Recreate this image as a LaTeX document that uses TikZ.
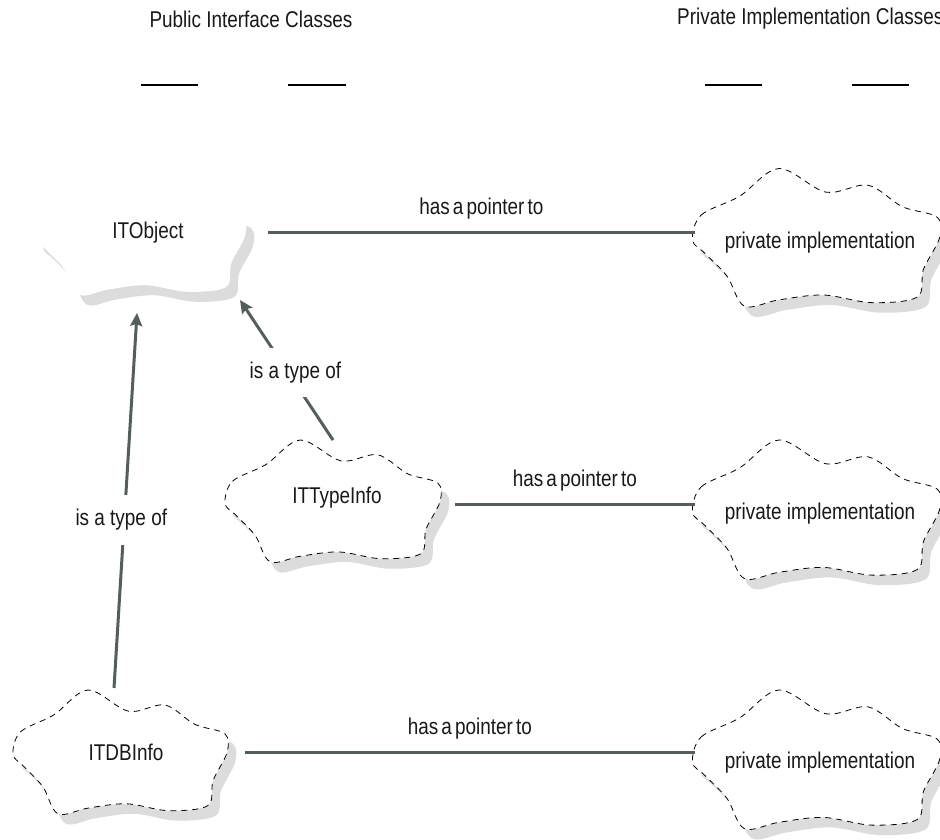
\documentclass[tikz,border=0pt]{standalone}
\usepackage{fontspec}
\setmainfont{Liberation Sans}[FakeStretch=0.83]
\newfontfamily\tightfont{Liberation Sans}[FakeStretch=0.83,WordSpace=0.6]
\usetikzlibrary{arrows.meta,calc}
\definecolor{linec}{RGB}{84,94,92}
\definecolor{txtc}{RGB}{25,25,25}
\definecolor{shadowc}{RGB}{220,220,220}
\newcommand\cloudshape{plot[smooth cycle, tension=0.55] coordinates {(-1.00,0.03) (-0.93,-0.33) (-0.62,-0.60) (-0.30,-1.00) (0.08,-0.66) (0.42,-0.76) (0.70,-0.45) (0.98,-0.30) (1.00,0.0) (0.87,0.45) (0.82,0.85) (0.45,0.93) (0.06,0.82) (-0.30,0.89) (-0.58,0.98) (-0.72,0.55) (-0.90,0.22)}}
\newcommand\mycloud[5]{%
  \begin{scope}[shift={(#1+8,#2+10)},xscale=#3,yscale=#4]
    \fill[shadowc] \cloudshape;
  \end{scope}
  \begin{scope}[shift={(#1,#2)},xscale=#3,yscale=#4]
    \path[fill=white,#5] \cloudshape;
  \end{scope}}
\tikzset{
  lbl/.style={font=\fontsize{22.8}{26}\selectfont, text=txtc, inner sep=0pt},
  ptr/.style={font=\tightfont\fontsize{22.8}{26}\selectfont, text=txtc, inner sep=0pt},
  conn/.style={draw=linec, line width=3pt},
  arr/.style={conn, -{Stealth[length=13pt,width=12pt,inset=2pt]}},
  dashedge/.style={draw=black, line width=0.8pt, dash pattern=on 6pt off 5pt},
  rule/.style={draw=black, line width=1.1pt},
  typelbl/.style={lbl, fill=white, inner xsep=2pt, inner ysep=14pt}
}
\begin{document}
\begin{tikzpicture}[x=1pt,y=-1pt]
\fill[white] (0,0) rectangle (940,839);
\useasboundingbox (0,0) rectangle (940,839);

% headers
\node[lbl] (pubhead) at (251,19) {Public Interface Classes};
\node[lbl, anchor=west] (privhead) at (677,19) {Private Implementation Classes};
\draw[rule] (141,85) -- (198,85);
\draw[rule] (288,85) -- (346,85);
\draw[rule] (705,85) -- (762,85);
\draw[rule] (852,85) -- (909,85);

% clouds
\mycloud{140}{236}{105}{60}{}
\mycloud{332.5}{501.5}{107.5}{61.5}{dashedge}
\mycloud{120}{752.5}{107}{62.5}{dashedge}
\mycloud{816}{238}{123.5}{69.5}{dashedge}
\mycloud{816}{510}{123.5}{70}{dashedge}
\mycloud{816}{760}{123.5}{70}{dashedge}

% texts
\node[lbl] (itobj) at (148,233) {ITObject};
\node[lbl] (ittype) at (337,498) {ITTypeInfo};
\node[lbl] (itdb) at (126,752) {ITDBInfo};
\node[lbl, minimum width=250pt] (priv1) at (820,243) {private implementation};
\node[lbl, minimum width=250pt] (priv2) at (820,514) {private implementation};
\node[lbl, minimum width=250pt] (priv3) at (820,763) {private implementation};

% has a pointer to
\draw[conn] ([xshift=120pt,yshift=1pt]itobj.center) -- ([yshift=1pt]itobj.center -| priv1.west)
  node[ptr, midway, yshift=23pt] {has a pointer to};
\coordinate (l2) at ([yshift=-6pt]ittype.center);
\draw[conn] ([xshift=118pt]l2) -- (l2 -| priv2.west)
  node[ptr, midway, yshift=23pt] {has a pointer to};
\draw[conn] ([xshift=119pt]itdb.center) -- (itdb.center -| priv3.west)
  node[ptr, midway, yshift=23pt] {has a pointer to};

% is a type of
\draw[arr] ([xshift=-12pt,yshift=64pt]itdb.center) -- ([xshift=-11pt,yshift=-80pt]itobj.center)
  node[typelbl, pos=0.448, xshift=-3pt] {is a type of};
\draw[arr] ([xshift=-4pt,yshift=58pt]ittype.center) -- ([xshift=92pt,yshift=-67pt]itobj.center)
  node[typelbl, pos=0.48, xshift=7pt] {is a type of};
\end{tikzpicture}
\end{document}
